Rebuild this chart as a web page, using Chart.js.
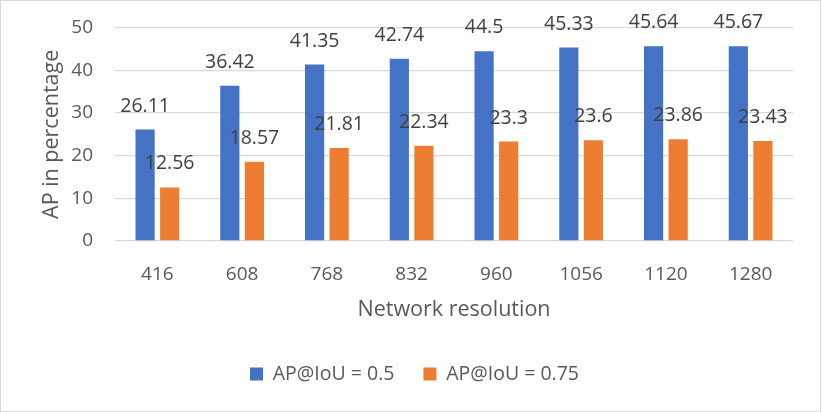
<!DOCTYPE html>
<html>
<head>
<meta charset="utf-8">
<script src="https://cdn.jsdelivr.net/npm/chart.js@4.4.1/dist/chart.umd.min.js"></script>
<style>
  html, body { margin: 0; padding: 0; background: #fff; }
  #wrap { position: relative; width: 822px; height: 412px; }
  #frame { position: absolute; left: 0; top: 0; width: 819px; height: 410px; border: 1px solid #d9d9d9; pointer-events: none; }
  canvas { position: absolute; left: 0; top: 0; }
</style>
</head>
<body>
<div id="wrap">
  <canvas id="chart" width="822" height="412"></canvas>
  <div id="frame"></div>
</div>
<script>
// network input resolutions (x axis)
const resolutions = ['416', '608', '768', '832', '960', '1056', '1120', '1280'];
const ap50 = [26.11, 36.42, 41.35, 42.74, 44.5, 45.33, 45.64, 45.67];
const ap75 = [12.56, 18.57, 21.81, 22.34, 23.3, 23.6, 23.86, 23.43];
const seriesNames = ['AP@IoU = 0.5', 'AP@IoU = 0.75'];
const yTicks = [0, 10, 20, 30, 40, 50];

const FONT = '"Open Sans", "Noto Sans", sans-serif';

// value labels above each bar, Excel style
const barLabels = {
  id: 'barLabels',
  afterDatasetsDraw(chart) {
    const ctx = chart.ctx;
    ctx.save();
    ctx.font = '19.5px ' + FONT;
    ctx.fillStyle = '#404040';
    ctx.textAlign = 'center';
    ctx.textBaseline = 'alphabetic';
    chart.data.datasets.forEach((ds, i) => {
      const meta = chart.getDatasetMeta(i);
      meta.data.forEach((bar, j) => {
        ctx.fillText(String(ds.data[j]), bar.x, bar.y - 18);
      });
    });
    ctx.restore();
  }
};

new Chart(document.getElementById('chart'), {
  type: 'bar',
  data: {
    labels: resolutions,
    datasets: [
      {
        label: seriesNames[0],
        data: ap50,
        backgroundColor: '#4472c4',
        categoryPercentage: 0.58,
        barPercentage: 0.78,
      },
      {
        label: seriesNames[1],
        data: ap75,
        backgroundColor: '#ed7d31',
        categoryPercentage: 0.58,
        barPercentage: 0.78,
      },
    ],
  },
  options: {
    responsive: false,
    animation: false,
    devicePixelRatio: 1,
    layout: { padding: { top: 27.7, right: 29, bottom: 18.25, left: 36 } },
    plugins: {
      tooltip: { enabled: false },
      legend: {
        position: 'bottom',
        labels: {
          boxWidth: 13,
          boxHeight: 13,
          padding: 29,
          color: '#595959',
          font: { family: FONT, size: 19.5 },
        },
      },
    },
    scales: {
      x: {
        grid: { display: false },
        border: { display: false },
        ticks: { color: '#595959', padding: 14, font: { family: FONT, size: 19 } },
        title: {
          display: true,
          text: 'Network resolution',
          color: '#595959',
          padding: { top: 4, bottom: 12.5 },
          font: { family: FONT, size: 21.5 },
        },
        afterFit(scale) { scale.height = 94.25; },
      },
      y: {
        min: 0,
        max: 50,
        afterBuildTicks(scale) { scale.ticks = yTicks.map(v => ({ value: v })); },
        // invisible tick marks give the gap between labels and plot
        grid: { color: '#d9d9d9', lineWidth: 1.3, drawTicks: true, tickLength: 22, tickColor: 'rgba(0,0,0,0)' },
        border: { display: false },
        ticks: { color: '#595959', padding: 0, font: { family: FONT, size: 19 } },
        title: {
          display: true,
          text: 'AP in percentage',
          color: '#595959',
          padding: { top: 2.5, bottom: 4 },
          font: { family: FONT, size: 21.5 },
        },
        afterFit(scale) { scale.width = 79; },
      },
    },
  },
  plugins: [barLabels],
});
</script>
</body>
</html>
